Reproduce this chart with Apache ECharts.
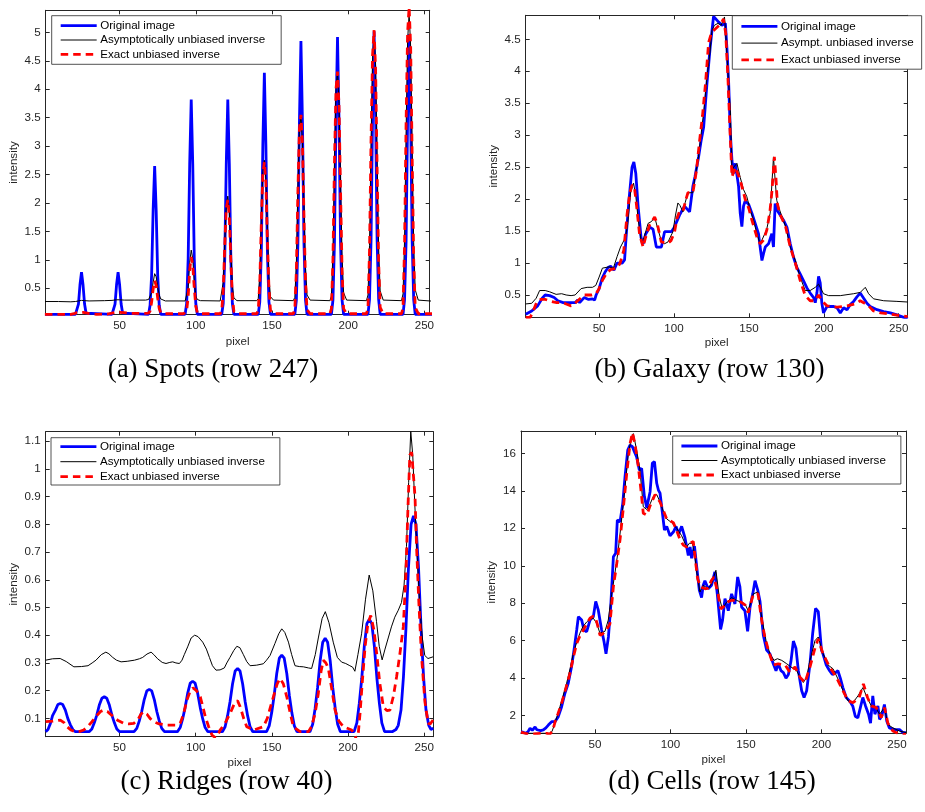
<!DOCTYPE html>
<html>
<head>
<meta charset="utf-8">
<script src="https://cdn.jsdelivr.net/npm/echarts@6/dist/echarts.min.js"></script>
<style>
  html, body { margin: 0; padding: 0; background: #fff; }
  #chart { width: 925px; height: 812px; }
</style>
</head>
<body>
<div id="chart"></div>
<script>
// Series names
const ORIGINAL = 'Original image';
const ASYM = 'Asymptotically unbiased inverse';
const ASYM_SHORT = 'Asympt. unbiased inverse';
const EXACT = 'Exact unbiased inverse';

// Tick values
const pixelTicks = [50, 100, 150, 200, 250];
const spotsYTicks = [0.5, 1, 1.5, 2, 2.5, 3, 3.5, 4, 4.5, 5];
const galaxyYTicks = [0.5, 1, 1.5, 2, 2.5, 3, 3.5, 4, 4.5];
const ridgesYTicks = [0.1, 0.2, 0.3, 0.4, 0.5, 0.6, 0.7, 0.8, 0.9, 1, 1.1];
const cellsYTicks = [2, 4, 6, 8, 10, 12, 14, 16];

// Sub-figure captions
const captions = ['(a) Spots (row 247)', '(b) Galaxy (row 130)', '(c) Ridges (row 40)', '(d) Cells (row 145)'];

// (a) Spots, row 247: [pixel, intensity]
const spotsOriginal = [[1,0.04],[21,0.04],[22,0.06],[23,0.22],[24,0.56],[25,0.78],[26,0.56],[27,0.22],[28,0.06],[29,0.04],
[45,0.04],[46,0.06],[47,0.22],[48,0.56],[49,0.78],[50,0.56],[51,0.22],[52,0.06],[53,0.04],
[69,0.04],[70,0.2],[71,0.72],[72,1.87],[73,2.65],[74,1.87],[75,0.72],[76,0.2],[77,0.04],
[93,0.04],[94,0.23],[95,1.02],[96,2.69],[97,3.82],[98,2.69],[99,1.02],[100,0.23],[101,0.04],
[117,0.04],[118,0.23],[119,1.02],[120,2.69],[121,3.82],[122,2.69],[123,1.02],[124,0.23],[125,0.04],
[141,0.04],[142,0.26],[143,1.14],[144,3.02],[145,4.29],[146,3.02],[147,1.14],[148,0.26],[149,0.04],
[165,0.04],[166,0.29],[167,1.29],[168,3.41],[169,4.85],[170,3.41],[171,1.29],[172,0.29],[173,0.04],
[189,0.04],[190,0.29],[191,1.31],[192,3.46],[193,4.92],[194,3.46],[195,1.31],[196,0.29],[197,0.04],
[213,0.04],[214,0.3],[215,1.33],[216,3.53],[217,5.02],[218,3.53],[219,1.33],[220,0.3],[221,0.04],
[236,0.04],[237,0.3],[238,1.32],[239,3.5],[240,4.97],[241,3.5],[242,1.32],[243,0.3],[244,0.04],[256,0.04]];
const spotsAsymptotic = [[1,0.265],[10,0.265],[18,0.26],[21,0.265],[23,0.275],[25,0.285],[27,0.28],[30,0.275],[40,0.28],[45,0.285],[48,0.295],[50,0.295],[53,0.29],[60,0.29],[67,0.29],[69,0.3],[70,0.33],[71,0.42],[72,0.6],[73,0.755],[74,0.7],[75,0.52],[76,0.38],[77,0.31],[78,0.285],[80,0.275],
[93,0.275],[94,0.3],[95,0.5],[96,0.95],[97,1.17],[98,1.02],[99,0.62],[100,0.36],[101,0.3],[103,0.28],
[116,0.275],[117,0.3],[118,0.6],[119,1.3],[120,1.95],[121,2.12],[122,1.85],[123,1.15],[124,0.55],[125,0.33],[127,0.28],
[140,0.28],[141,0.32],[142,0.75],[143,1.75],[144,2.55],[145,2.75],[146,2.4],[147,1.55],[148,0.7],[149,0.35],[151,0.29],
[164,0.28],[165,0.34],[166,0.95],[167,2.25],[168,3.3],[169,3.52],[170,3.05],[171,1.95],[172,0.85],[173,0.38],[175,0.29],
[188,0.28],[189,0.36],[190,1.15],[191,2.75],[192,4.0],[193,4.3],[194,3.75],[195,2.4],[196,1.05],[197,0.42],[199,0.29],
[212,0.28],[213,0.38],[214,1.25],[215,3.05],[216,4.55],[217,5.03],[218,4.4],[219,2.8],[220,1.2],[221,0.45],[223,0.29],
[235,0.28],[236,0.4],[237,1.35],[238,3.25],[239,4.85],[240,5.35],[241,4.75],[242,3.0],[243,1.3],[244,0.47],[246,0.29],[256,0.27]];
const spotsExact = [[1,0.04],[18,0.04],[20,0.05],[22,0.07],[24,0.075],[26,0.075],[28,0.065],[31,0.05],[35,0.04],[42,0.045],[45,0.06],[47,0.075],[50,0.075],[53,0.07],[56,0.06],[60,0.055],[67,0.055],[69,0.06],
[70,0.1],[71,0.25],[72,0.48],[73,0.63],[74,0.55],[75,0.32],[76,0.14],[77,0.07],[79,0.05],
[92,0.05],[94,0.1],[95,0.35],[96,0.82],[97,1.05],[98,0.9],[99,0.5],[100,0.18],[101,0.07],[103,0.05],
[116,0.05],[117,0.1],[118,0.45],[119,1.25],[120,1.9],[121,2.05],[122,1.75],[123,1.0],[124,0.35],[125,0.09],[127,0.05],
[140,0.05],[141,0.12],[142,0.6],[143,1.65],[144,2.5],[145,2.72],[146,2.35],[147,1.35],[148,0.5],[149,0.11],[151,0.05],
[164,0.05],[165,0.13],[166,0.8],[167,2.2],[168,3.3],[169,3.55],[170,3.05],[171,1.75],[172,0.62],[173,0.12],[175,0.05],
[188,0.05],[189,0.14],[190,1.0],[191,2.7],[192,4.0],[193,4.31],[194,3.7],[195,2.2],[196,0.8],[197,0.14],[199,0.05],
[212,0.05],[213,0.15],[214,1.15],[215,3.1],[216,4.6],[217,5.04],[218,4.35],[219,2.6],[220,0.95],[221,0.16],[223,0.05],
[235,0.05],[236,0.16],[237,1.25],[238,3.4],[239,5.0],[240,5.45],[241,4.75],[242,2.8],[243,1.0],[244,0.16],[246,0.05],[256,0.05]];

// (b) Galaxy, row 130
const galaxyOriginal = [[1,0.2],[5,0.25],[9,0.33],[12,0.45],[14,0.5],[17,0.49],[20,0.46],[22.5,0.41],[26,0.38],[31,0.38],[34,0.38],[35.7,0.42],[37,0.38],[40,0.46],[43,0.43],[45.6,0.44],[47,0.42],[48,0.5],[50,0.6],[52,0.76],[54,0.86],[56,0.93],[57.7,0.95],[59.9,0.89],[62,1.0],[65.4,1.0],[67,1.05],[68,1.4],[70,2.0],[72,2.5],[73.2,2.58],[74.5,2.4],[76,1.9],[78,1.4],[79.4,1.3],[81,1.45],[83.8,1.56],[86,1.53],[88.2,1.25],[91.6,1.25],[93.7,1.49],[98.2,1.49],[100,1.55],[103.7,1.75],[107,1.89],[110.4,1.8],[112.6,2.2],[114,2.35],[116.4,2.66],[118,2.9],[119.8,3.13],[122,3.81],[124.2,4.39],[126.4,4.86],[127.5,4.88],[129.8,4.77],[132,4.72],[134.3,4.75],[135.4,4.33],[136.5,3.81],[137.6,3.03],[138.7,2.6],[139.8,2.4],[140.9,2.56],[142,2.54],[143.1,2.2],[144.2,1.78],[145.3,1.57],[146.4,1.89],[147.5,1.97],[149.8,1.92],[152,1.78],[154.2,1.62],[156.4,1.46],[157.5,1.25],[158.7,1.04],[159.8,1.15],[160.9,1.25],[163.1,1.3],[165.3,1.46],[166.4,1.25],[167.5,1.93],[168.7,1.83],[173.1,1.67],[175.4,1.56],[177.6,1.3],[179.8,1.09],[182,0.93],[184.2,0.83],[186.5,0.72],[188.7,0.61],[190.9,0.53],[193.2,0.46],[194.3,0.38],[195.4,0.53],[196.5,0.79],[197.6,0.69],[198.7,0.37],[199.8,0.22],[202.1,0.32],[206.6,0.32],[208.8,0.3],[211,0.22],[213.2,0.3],[215.5,0.27],[217.7,0.35],[219.9,0.4],[222.1,0.47],[224.3,0.53],[226.6,0.45],[228.8,0.37],[231,0.32],[235.5,0.27],[239.9,0.24],[244.4,0.22],[248.8,0.19],[253.3,0.15],[256,0.13]];
const galaxyAsymptotic = [[1,0.36],[5,0.37],[8,0.45],[10.3,0.57],[14,0.57],[17,0.55],[21.3,0.51],[25,0.52],[28,0.5],[31.3,0.49],[34,0.5],[38,0.6],[42,0.62],[45.6,0.62],[47.8,0.65],[50,0.78],[52.2,0.92],[56.6,0.94],[59.5,0.92],[62,1.1],[64.3,1.25],[67.6,1.4],[69,1.6],[71,2.1],[73,2.25],[74.5,2.05],[76,1.7],[78.3,1.3],[80,1.4],[82.7,1.62],[85,1.65],[87.1,1.72],[89,1.55],[91.5,1.35],[93.5,1.3],[96,1.33],[99.3,1.49],[101,1.75],[102.6,1.94],[104,1.9],[106,1.8],[107.5,1.95],[109.3,2.1],[112.6,2.1],[114,2.35],[116,2.6],[118,3.0],[120,3.4],[122,3.9],[124,4.3],[125.3,4.64],[127,4.72],[129.3,4.75],[131.5,4.72],[133.7,4.85],[134.5,4.6],[135.4,4.22],[137.6,3.39],[138.7,2.4],[139.8,2.5],[142,2.56],[144.2,2.34],[146.4,2.15],[148.6,2.04],[150.9,1.83],[153.1,1.67],[155.3,1.46],[157.5,1.3],[158.7,1.36],[161.8,1.52],[164.2,1.78],[165.5,2.3],[166.4,2.66],[167.5,2.3],[168.6,1.98],[170.5,1.83],[174.5,1.57],[177.6,1.25],[181,1.04],[184.2,0.78],[187.6,0.57],[190.9,0.57],[194.3,0.62],[196.5,0.67],[199.8,0.52],[203.2,0.49],[211,0.49],[219.9,0.52],[224.3,0.54],[227.7,0.62],[229.9,0.52],[233.2,0.44],[240,0.41],[248.8,0.4],[256,0.39]];
const galaxyExact = [[1,0.15],[4,0.15],[6,0.25],[8.6,0.4],[11,0.43],[14.2,0.43],[18,0.4],[21.8,0.38],[26,0.38],[28,0.36],[31.3,0.33],[33,0.35],[35.7,0.41],[40.1,0.5],[45,0.5],[48,0.52],[50,0.6],[52.2,0.73],[55.5,0.86],[58,0.9],[62.1,0.92],[64,1.0],[66.5,1.2],[68.7,1.77],[70.5,2.1],[72,2.22],[73.5,2.2],[75,1.9],[77,1.45],[79.4,1.25],[81,1.4],[83.8,1.6],[87.1,1.72],[89,1.6],[91.5,1.33],[96,1.31],[98,1.35],[100.4,1.49],[102,1.7],[103.7,1.81],[106,1.81],[108,2.0],[109.3,2.1],[112.6,2.1],[115,2.45],[117,2.9],[119,3.3],[121,3.8],[123.1,4.45],[125,4.6],[127,4.65],[129.3,4.7],[131.5,4.75],[133,4.82],[134.5,4.6],[136,3.9],[137.5,3.0],[138.7,2.35],[140.9,2.5],[144.2,2.3],[147.5,2.0],[150,1.85],[152,1.67],[155.3,1.41],[157.5,1.3],[159.8,1.36],[162,1.52],[164,1.8],[165.3,2.1],[167,2.66],[168,2.35],[169,1.93],[170.5,1.78],[174.5,1.57],[177.6,1.25],[181,1.0],[184.2,0.73],[187.6,0.49],[190.9,0.41],[194.3,0.41],[196.5,0.5],[198.7,0.41],[202.1,0.33],[209,0.31],[215.5,0.33],[221,0.36],[224.3,0.41],[226.6,0.38],[229.9,0.33],[233.2,0.25],[238,0.22],[244.4,0.2],[250,0.18],[256,0.16]];

// (c) Ridges, row 40
const ridgesOriginal = [[1.5,0.052],[3,0.06],[4.6,0.082],[6,0.11],[7.9,0.13],[9.5,0.15],[11.1,0.154],[12.7,0.15],[14.4,0.13],[16,0.1],[17.7,0.077],[19.3,0.06],[21,0.052],
[30,0.052],[31.8,0.062],[33.4,0.084],[35,0.111],[36.7,0.148],[38.4,0.173],[40,0.178],[41.6,0.173],[43.3,0.148],[45,0.111],[46.6,0.084],[48.2,0.062],[50,0.052],
[59.5,0.052],[61.3,0.064],[62.9,0.09],[64.5,0.124],[66.2,0.168],[67.9,0.199],[69.5,0.205],[71.1,0.199],[72.8,0.168],[74.5,0.124],[76.1,0.09],[77.7,0.064],[79.5,0.052],
[88,0.052],[89.8,0.067],[91.4,0.098],[93,0.138],[94.7,0.19],[96.4,0.227],[98,0.234],[99.6,0.227],[101.3,0.19],[103,0.138],[104.6,0.098],[106.2,0.067],[108,0.052],
[117.5,0.052],[119.3,0.07],[120.9,0.109],[122.5,0.159],[124.2,0.225],[125.9,0.271],[127.5,0.28],[129.1,0.271],[130.8,0.225],[132.5,0.159],[134.1,0.109],[135.7,0.07],[137.5,0.052],
[146.5,0.052],[148.3,0.074],[149.9,0.121],[151.5,0.182],[153.2,0.262],[154.9,0.317],[156.5,0.328],[158.1,0.317],[159.8,0.262],[161.5,0.182],[163.1,0.121],[164.7,0.074],[166.5,0.052],
[175,0.052],[176.8,0.079],[178.4,0.136],[180,0.21],[181.7,0.308],[183.4,0.375],[185,0.389],[186.6,0.375],[188.3,0.308],[190,0.21],[191.6,0.136],[193.2,0.079],[195,0.052],
[204,0.052],[205.8,0.084],[207.4,0.154],[209,0.243],[210.7,0.361],[212.4,0.442],[214,0.458],[215.6,0.442],[217.3,0.361],[219,0.243],[220.6,0.154],[222.2,0.084],[224,0.052],
[229,0.052],[231.5,0.06],[233,0.075],[234.8,0.13],[236.4,0.25],[238,0.42],[239.7,0.644],[241.4,0.8],[243,0.83],[244.6,0.8],[246.3,0.644],[248,0.42],[249.6,0.25],[251.2,0.13],[253,0.075],[254.5,0.06],[256,0.065]];
const ridgesAsymptotic = [[1.5,0.31],[6,0.315],[11,0.316],[15,0.305],[20,0.286],[25,0.287],[29.3,0.29],[32,0.3],[34.5,0.31],[38,0.33],[41,0.339],[43,0.333],[45.5,0.32],[48,0.31],[51,0.304],[55,0.306],[59.8,0.31],[63,0.315],[65.2,0.32],[68,0.332],[70.7,0.339],[72.5,0.33],[75,0.315],[78,0.302],[80.5,0.298],[83,0.302],[84.9,0.304],[87,0.3],[89.3,0.298],[91,0.31],[92.5,0.33],[94.7,0.358],[97,0.39],[99.3,0.4],[101.5,0.395],[104.6,0.375],[107,0.35],[109,0.32],[111,0.29],[113.3,0.274],[116,0.275],[118.8,0.282],[120.4,0.3],[122.5,0.32],[125,0.345],[127,0.36],[129,0.355],[131.3,0.33],[133.5,0.305],[135.7,0.29],[140,0.292],[144.4,0.297],[146.5,0.31],[148.8,0.327],[152,0.37],[154.5,0.405],[156.5,0.423],[158.5,0.41],[160.9,0.375],[163,0.33],[165.2,0.29],[168,0.287],[170.7,0.286],[174,0.282],[176.1,0.28],[178.5,0.33],[180.5,0.39],[183,0.46],[185.1,0.485],[187.5,0.445],[190.3,0.375],[193,0.32],[195.8,0.303],[198.5,0.298],[201.2,0.29],[203,0.285],[204.5,0.27],[206.5,0.33],[208.9,0.405],[211.5,0.53],[213.9,0.617],[216.3,0.56],[218.7,0.45],[220.5,0.36],[222.4,0.311],[224.3,0.35],[226.4,0.39],[228.5,0.43],[230.7,0.465],[233,0.49],[235.1,0.518],[236.8,0.58],[238.4,0.72],[239.8,0.95],[241.2,1.135],[242.5,1.05],[243.8,0.877],[245.5,0.68],[247.1,0.506],[248.8,0.39],[250.4,0.327],[252.5,0.316],[255.8,0.322]];
const ridgesExact = [[1.5,0.088],[6,0.09],[11.1,0.094],[13.5,0.085],[15.5,0.07],[18,0.058],[21,0.052],[24,0.053],[26.4,0.058],[29,0.07],[31.9,0.088],[35,0.11],[37.5,0.125],[39.6,0.13],[42,0.125],[44,0.115],[46.1,0.106],[49,0.092],[52.7,0.082],[56,0.08],[59.3,0.082],[62,0.095],[64,0.115],[65.8,0.124],[68,0.115],[70,0.1],[72.4,0.088],[76,0.08],[81.1,0.076],[87.7,0.076],[90,0.085],[92,0.115],[94.2,0.166],[96.5,0.2],[98.2,0.21],[100.5,0.2],[103,0.178],[104.8,0.14],[106.3,0.106],[108.5,0.07],[110.7,0.04],[113,0.03],[115,0.045],[116,0.058],[119,0.08],[122.6,0.118],[125.9,0.16],[127.5,0.163],[129.2,0.142],[131.5,0.1],[133.5,0.07],[137.9,0.058],[144.4,0.07],[147,0.1],[149,0.14],[151,0.178],[153.5,0.225],[155.4,0.244],[157.5,0.225],[159.8,0.178],[162,0.12],[164.1,0.07],[168.5,0.052],[174,0.052],[176,0.07],[178.4,0.118],[180.5,0.19],[182.3,0.27],[183.8,0.31],[185.5,0.3],[187.1,0.28],[189.5,0.2],[191.5,0.13],[194,0.09],[197,0.07],[202.4,0.058],[204.5,0.04],[205.7,0.02],[206.8,0.05],[207.9,0.118],[209.5,0.24],[211.2,0.358],[213,0.44],[214.9,0.471],[217,0.42],[218.9,0.33],[220.8,0.23],[223.2,0.142],[225.5,0.128],[227.5,0.13],[229.8,0.18],[231.9,0.25],[234,0.33],[236.3,0.43],[238,0.62],[239.3,0.85],[240.6,1.05],[241.8,1.06],[242.8,1.055],[244,0.9],[245,0.72],[246.5,0.52],[248.2,0.33],[250.5,0.16],[252.6,0.082],[254,0.08],[255.8,0.094]];

// (d) Cells, row 145
const cellsOriginal = [[1,1.15],[3,1.1],[4.8,1.06],[6,1.2],[7,1.33],[8.5,1.22],[10.3,1.4],[11.5,1.25],[12.5,1.15],[14,1.2],[15.8,1.24],[17.5,1.35],[19.1,1.5],[21.3,1.68],[23.5,1.68],[25.7,1.95],[27.9,2.48],[30.1,3.2],[32.3,3.73],[34.5,4.62],[36.1,5.5],[37.9,6.57],[39,7.28],[41.2,7.1],[42.7,6.57],[44.5,6.48],[46.7,7.1],[48.9,7.28],[50.5,8.1],[52.2,7.63],[54.4,6.57],[56,5.95],[57.3,5.3],[58.9,6.2],[60.4,7.8],[62.2,10.48],[63.7,10.67],[64.8,12.44],[66.6,12.35],[68.4,13.33],[69.9,14.75],[71.7,16.17],[73.2,16.44],[74.8,16.35],[76.1,16.08],[77.6,15.8],[79.4,15.1],[80.9,15.2],[82.7,13.7],[84.3,13.1],[86.5,13.95],[88,15.47],[89.4,15.55],[90.9,14.4],[92,14.04],[93.1,13.87],[94.7,12.8],[96,11.9],[97.5,12.1],[99.7,11.6],[101.9,11.8],[103.7,12.1],[105.4,11.7],[107.4,12.1],[109.6,11.5],[111.8,10.55],[113,11.0],[114,10.4],[115.9,11.05],[117.3,10.0],[119.1,8.7],[120.6,8.3],[121.7,8.96],[122.8,9.2],[125,8.77],[127.2,8.96],[129.4,9.67],[131,8.5],[133.2,6.6],[134.5,7.1],[136.1,8.24],[138.3,7.6],[140.5,8.5],[142.7,7.96],[144.5,9.4],[146,8.87],[147.1,7.8],[149.3,7.6],[151.1,6.5],[152.7,7.8],[154.5,8.5],[156,9.2],[157.8,8.7],[159.3,8.1],[161.5,6.3],[163.7,5.5],[165.9,5.3],[168.1,4.77],[169.9,4.4],[171.4,4.77],[173.2,4.4],[174.8,4.3],[176.5,4.0],[178.1,4.2],[179.8,4.9],[181.4,5.98],[183.1,5.6],[184.7,4.4],[186.9,3.33],[188.5,2.97],[190.2,3.33],[192.4,4.77],[194.2,6.4],[196.1,7.72],[197.9,7.55],[200,5.5],[201,5.3],[203.2,4.7],[205.4,4.4],[207.2,4.2],[209.4,4.3],[210.9,4.4],[212.5,4.0],[214.2,3.5],[216.4,2.97],[218.6,2.79],[220.8,2.5],[222.4,1.97],[224.1,1.88],[225.7,2.4],[227.4,2.97],[229.2,2.52],[231.2,2.08],[232.5,1.6],[234,3.06],[235.4,2.08],[237.4,2.52],[238.5,1.8],[240,2.0],[241.7,2.6],[243.3,1.7],[245,1.35],[248.4,1.26],[251.7,1.26],[253.9,1.1],[256,1.1]];
const cellsAsymptotic = [[1,1.06],[10,1.06],[20,1.06],[21.5,1.15],[23.5,1.6],[25,2.0],[26.8,2.48],[29,3.1],[31.2,3.73],[33.5,4.5],[35.6,5.3],[37.8,5.9],[40,6.4],[42,6.75],[44.5,7.0],[46.5,7.15],[48.9,7.2],[51.1,6.93],[53.3,6.4],[55,6.45],[56.6,6.5],[58.8,7.1],[61,8.45],[63.2,9.6],[65.4,10.84],[67.6,12.44],[69.9,14.2],[72.1,16.0],[74.3,16.9],[75.4,17.05],[77.6,16.17],[79.8,15.1],[82,13.15],[84.3,13.0],[86.5,13.3],[88.7,13.7],[90.9,13.8],[93.1,13.4],[95.3,12.9],[97.5,12.5],[100.8,12.3],[104.1,12.0],[107.4,11.6],[110.7,11.0],[112.5,11.2],[114.5,11.2],[116,10.6],[117.5,9.6],[119.5,8.6],[121.7,8.96],[125,8.77],[127.2,9.05],[130.1,9.76],[132.3,8.33],[134.3,7.7],[137.2,8.05],[140.5,8.3],[143.8,8.15],[147.1,8.05],[149.3,7.96],[151.5,7.6],[154.9,8.5],[157.8,8.6],[160.4,7.26],[163.3,6.0],[165.9,5.3],[168.6,4.95],[170.8,5.04],[173.7,4.95],[177,4.77],[179.8,4.6],[183.6,4.4],[185.8,4.05],[188,3.77],[190.2,4.05],[192.4,4.95],[195.7,6.0],[197.9,6.2],[201.1,5.3],[204.4,4.7],[207.7,4.5],[211,3.95],[214.3,3.33],[217.6,2.79],[220.9,2.7],[224.2,3.06],[227.5,3.5],[229.7,3.06],[233,2.52],[235.2,2.52],[238.5,2.08],[241.8,2.43],[244,1.53],[247.3,1.35],[251.7,1.18],[256,1.1]];
const cellsExact = [[1,1.12],[4,1.05],[7,1.0],[10,1.03],[14,1.06],[18,1.06],[20,1.0],[22,1.2],[24,1.8],[25.5,2.1],[27.9,2.66],[30.5,3.4],[33.4,4.26],[35.5,5.05],[37.9,5.86],[40,6.25],[42.3,6.57],[44.5,6.9],[46.7,7.2],[48.5,7.3],[50,7.28],[51.5,6.9],[53.3,6.3],[55,6.35],[56.6,6.5],[58.5,6.7],[59.9,6.9],[62.2,8.9],[64.4,10.1],[66.6,11.4],[68.8,13.1],[71,14.9],[73.2,16.5],[74.8,17.1],[76.5,16.5],[78.7,15.3],[80.5,14.0],[82,12.8],[84.3,12.7],[86.5,13.2],[89.8,13.8],[93.1,13.4],[97.5,12.5],[101.9,12.3],[104,11.9],[106.3,11.4],[108.5,11.1],[110.7,11.0],[113,11.2],[115.1,11.3],[116.5,10.3],[118,9.3],[120,8.87],[123,8.77],[125,8.8],[127,9.2],[128.8,9.4],[130,9.3],[131.5,8.5],[133.2,7.7],[135,7.8],[137.2,8.05],[140,8.15],[143,8.15],[147,8.05],[149.5,7.9],[151.5,7.5],[154.9,8.5],[158,8.5],[160.4,7.1],[162.5,6.2],[164.8,5.5],[168.1,4.7],[171.4,4.77],[176,4.7],[179.2,4.3],[182.5,4.6],[185.8,4.05],[189.1,3.77],[192.4,4.6],[195.7,5.6],[197.9,6.1],[201,5.3],[205.4,4.6],[209.9,4.05],[214.3,3.33],[217.6,2.79],[220.9,2.7],[225,2.97],[227.8,3.7],[230.5,2.97],[233,2.52],[236.3,2.43],[239.6,1.9],[241.8,2.43],[244,1.6],[247.3,1.18],[251,1.05],[253.9,1.0],[256,1.0]];

// ---- layout of the four panels ----
const FONT = 'Liberation Sans';
const INK = '#262626';
const panels = [
  { grid: { left: 45.7, top: 10.3, width: 384, height: 304.4 }, x: [1.5, 253.5], y: [0.033, 5.39], yTicks: spotsYTicks,
    data: [spotsOriginal, spotsAsymptotic, spotsExact], names: [ORIGINAL, ASYM, EXACT],
    legend: { left: 51.7, top: 15.7, padding: [3, 16, 3, 7.6], itemGap: 0.3 }, yNameGap: 26, xNameGap: 21 },
  { grid: { left: 525.7, top: 15.3, width: 382, height: 302 }, x: [1, 256], y: [0.151, 4.876], yTicks: galaxyYTicks,
    data: [galaxyOriginal, galaxyAsymptotic, galaxyExact], names: [ORIGINAL, ASYM_SHORT, EXACT],
    legend: { left: 732.3, top: 15.7, padding: [3.6, 8, 2.3, 7.7], itemGap: 2.8 }, yNameGap: 26, xNameGap: 19 },
  { grid: { left: 45.7, top: 431.7, width: 387.6, height: 305 }, x: [1.5, 256], y: [0.034, 1.134], yTicks: ridgesYTicks,
    data: [ridgesOriginal, ridgesAsymptotic, ridgesExact], names: [ORIGINAL, ASYM, EXACT],
    legend: { left: 51, top: 437.7, padding: [2, 15, 1.3, 8], itemGap: 1 }, yNameGap: 26, xNameGap: 20 },
  { grid: { left: 521, top: 431, width: 385, height: 302.3 }, x: [1, 256], y: [1.06, 17.19], yTicks: cellsYTicks,
    data: [cellsOriginal, cellsAsymptotic, cellsExact], names: [ORIGINAL, ASYM, EXACT],
    legend: { left: 672.7, top: 436, padding: [3, 15, 2, 7.3], itemGap: 0.5 }, yNameGap: 23, xNameGap: 20 }
];
const captionPos = [[213, 370], [709.5, 370], [226.5, 781.5], [712, 781.5]];

const lineStyles = [
  { color: '#0000ff', width: 2.8, type: 'solid' },
  { color: '#000000', width: 1, type: 'solid' },
  { color: '#ff0000', width: 2.8, type: [7.5, 5] }
];

const grids = [], xAxes = [], yAxes = [], series = [], legends = [];
const labelStyle = { fontFamily: FONT, fontSize: 11.6, color: INK };
const axisLine = { show: true, onZero: false, lineStyle: { color: INK, width: 1 } };

panels.forEach((p, i) => {
  grids.push(Object.assign({ containLabel: false }, p.grid));
  // bottom (labelled) and top (ticks only) x axes
  xAxes.push({
    type: 'value', gridIndex: i, position: 'bottom', min: p.x[0], max: p.x[1],
    axisLine: axisLine, splitLine: { show: false },
    axisTick: { show: true, inside: true, length: 4, customValues: pixelTicks, lineStyle: { color: INK } },
    axisLabel: Object.assign({ show: true, margin: 5, customValues: pixelTicks }, labelStyle),
    name: 'pixel', nameLocation: 'middle', nameGap: p.xNameGap,
    nameTextStyle: { fontFamily: FONT, fontSize: 11.6, color: INK }
  });
  xAxes.push({
    type: 'value', gridIndex: i, position: 'top', min: p.x[0], max: p.x[1],
    axisLine: axisLine, splitLine: { show: false },
    axisTick: { show: true, inside: true, length: 4, customValues: pixelTicks, lineStyle: { color: INK } },
    axisLabel: { show: false }
  });
  // left (labelled) and right (ticks only) y axes
  yAxes.push({
    type: 'value', gridIndex: i, position: 'left', min: p.y[0], max: p.y[1],
    axisLine: axisLine, splitLine: { show: false },
    axisTick: { show: true, inside: true, length: 4, customValues: p.yTicks, lineStyle: { color: INK } },
    axisLabel: Object.assign({ show: true, margin: 5, customValues: p.yTicks }, labelStyle),
    name: 'intensity', nameLocation: 'middle', nameRotate: 90, nameGap: p.yNameGap,
    nameTextStyle: { fontFamily: FONT, fontSize: 11.6, color: INK }
  });
  yAxes.push({
    type: 'value', gridIndex: i, position: 'right', min: p.y[0], max: p.y[1],
    axisLine: axisLine, splitLine: { show: false },
    axisTick: { show: true, inside: true, length: 4, customValues: p.yTicks, lineStyle: { color: INK } },
    axisLabel: { show: false }
  });
  p.data.forEach((d, k) => {
    series.push({
      type: 'line', name: p.names[k], data: d,
      xAxisIndex: i * 2, yAxisIndex: i * 2,
      symbol: 'none', showSymbol: false, clip: true, z: 2 + k,
      lineStyle: lineStyles[k], itemStyle: { color: lineStyles[k].color },
      emphasis: { disabled: true }
    });
  });
  legends.push({
    show: true, orient: 'vertical', left: p.legend.left, top: p.legend.top,
    padding: p.legend.padding, itemGap: p.legend.itemGap,
    itemWidth: 36, itemHeight: 14, selectedMode: false,
    backgroundColor: '#ffffff', borderColor: INK, borderWidth: 0.8, borderRadius: 0,
    itemStyle: { opacity: 0 },
    data: p.names.map((n, k) => ({
      name: n,
      lineStyle: { width: lineStyles[k].width, color: lineStyles[k].color, type: lineStyles[k].type }
    })),
    textStyle: { fontFamily: FONT, fontSize: 11.6, color: '#000', lineHeight: 14, padding: [0, 0, 0, -1.5] }
  });
});

const graphics = captions.map((t, i) => ({
  type: 'text', x: captionPos[i][0], y: captionPos[i][1], silent: true,
  style: { text: t, font: '27px "Liberation Serif"', fill: '#000', align: 'center', verticalAlign: 'middle' }
}));

const chart = echarts.init(document.getElementById('chart'), null, { renderer: 'canvas' });
chart.setOption({
  animation: false,
  backgroundColor: '#ffffff',
  grid: grids,
  xAxis: xAxes,
  yAxis: yAxes,
  legend: legends,
  series: series,
  graphic: graphics
});
</script>
</body>
</html>
